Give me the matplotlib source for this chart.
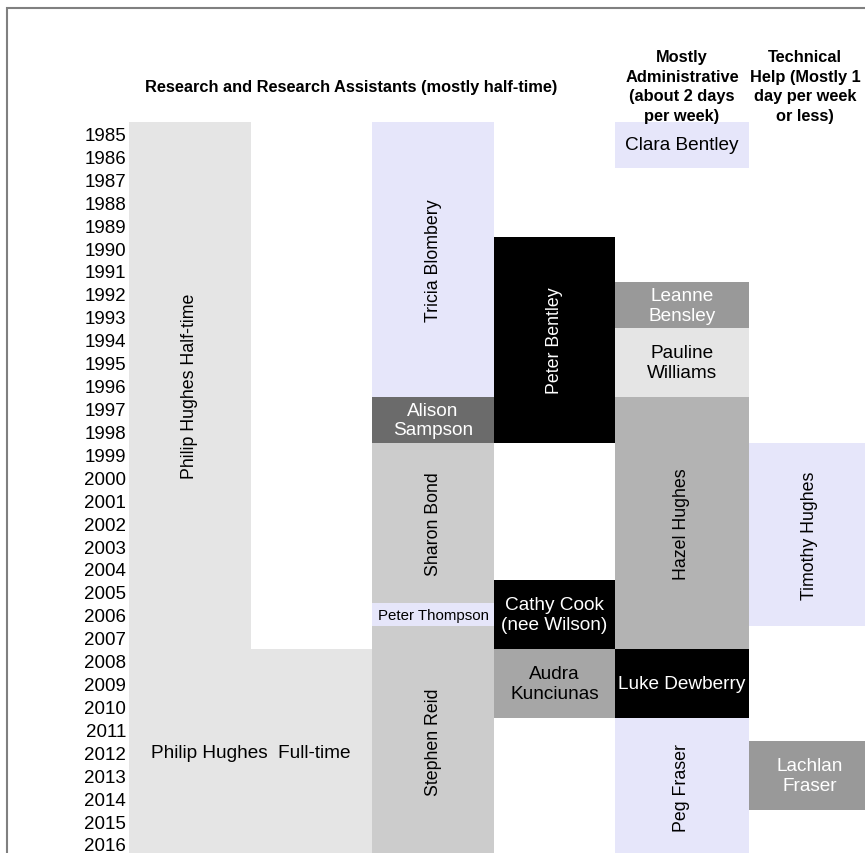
"""
Staff timeline 1985-2016: who worked in which role, one block per person.
"""

import matplotlib.pyplot as plt
from matplotlib.patches import Rectangle

OUTPUT = "out.png"
FONT = ["Liberation Sans", "DejaVu Sans"]

# data ---------------------------------------------------------------------
years = list(range(1985, 2017))

names = [
    "Philip Hughes Half-time", "Philip Hughes  Full-time",
    "Tricia Blombery", "Alison\nSampson", "Sharon Bond", "Peter Thompson", "Stephen Reid",
    "Peter Bentley", "Cathy Cook\n(nee Wilson)", "Audra\nKunciunas",
    "Clara Bentley", "Leanne\nBensley", "Pauline\nWilliams", "Hazel Hughes",
    "Luke Dewberry", "Peg Fraser",
    "Timothy Hughes", "Lachlan\nFraser",
]
first_year = [1985, 2008, 1985, 1997, 1999, 2006, 2007, 1990, 2005, 2008,
              1985, 1992, 1994, 1997, 2008, 2011, 1999, 2012]
last_year = [2007, 2016, 1996, 1998, 2005, 2006, 2016, 1998, 2007, 2010,
             1986, 1993, 1996, 2007, 2010, 2016, 2006, 2014]
first_col = [0, 0, 2, 2, 2, 2, 2, 3, 3, 3, 4, 4, 4, 4, 4, 4, 5, 5]
last_col = [0, 1, 2, 2, 2, 2, 2, 3, 3, 3, 4, 4, 4, 4, 4, 4, 5, 5]

headers = [
    "Research and Research Assistants (mostly half-time)",
    "Mostly\nAdministrative\n(about 2 days\nper week)",
    "Technical\nHelp (Mostly 1\nday per week\nor less)",
]

# layout / style ------------------------------------------------------------
col_edges = [129, 251, 372, 494, 615, 749, 871]   # pixel columns
header_x = [351, 682, 805]
fills = ["#e5e5e5", "#e5e5e5", "#e6e6fa", "#6b6b6b", "#cccccc", "#e6e6fa", "#cccccc",
         "black", "black", "#a6a6a6",
         "#e6e6fa", "#999999", "#e5e5e5", "#b3b3b3", "black", "#e6e6fa",
         "#e6e6fa", "#999999"]
light_text = {"Alison\nSampson", "Peter Bentley", "Cathy Cook\n(nee Wilson)",
              "Leanne\nBensley", "Luke Dewberry", "Lachlan\nFraser"}
rotated = {"Philip Hughes Half-time", "Tricia Blombery", "Sharon Bond",
           "Stephen Reid", "Peter Bentley", "Hazel Hughes", "Peg Fraser",
           "Timothy Hughes"}

W, H, DPI = 865, 854, 100
TOP_PX, ROW_PX = 123, 22.92

fig = plt.figure(figsize=(W / DPI, H / DPI), dpi=DPI)
ax = fig.add_axes([col_edges[0] / W, 0, 1 - col_edges[0] / W, (H - TOP_PX) / H])
ax.set_xlim(col_edges[0], W)
ax.set_ylim(years[0] + (H - TOP_PX) / ROW_PX, years[0])
for s in ax.spines.values():
    s.set_visible(False)
ax.set_xticks([])
ax.set_yticks([y + 0.5 for y in years])
ax.set_yticklabels([str(y) for y in years], family=FONT, fontsize=13.5)
ax.tick_params(axis="y", length=0, pad=2)

for i, name in enumerate(names):
    x0 = col_edges[first_col[i]]
    x1 = col_edges[last_col[i] + 1]
    y0 = first_year[i]
    y1 = last_year[i] + 1
    ax.add_patch(Rectangle((x0, y0), x1 - x0, y1 - y0, facecolor=fills[i],
                           edgecolor="none", clip_on=False))
    if name == "Peter Thompson":
        size = 10.8
    elif name in rotated:
        size = 12.8
    else:
        size = 13.7
    ax.text((x0 + x1) / 2, (y0 + y1) / 2, name, ha="center", va="center",
            rotation=90 if name in rotated else 0, family=FONT, fontsize=size,
            color="white" if name in light_text else "black",
            linespacing=1.2, clip_on=True)

header_y = years[0] - (TOP_PX - 87) / ROW_PX
for hx, text in zip(header_x, headers):
    ax.text(hx, header_y, text, ha="center", va="center", family=FONT,
            fontsize=11.8, fontweight="bold", linespacing=1.38, clip_on=False)

# outer frame, right and bottom edges run off the picture
fig.patches.append(Rectangle((6.5 / W, -0.1), 1.2, 1.1 - 8.5 / H, transform=fig.transFigure,
                             facecolor="none", edgecolor="#808080", linewidth=1.5))

fig.savefig(OUTPUT, dpi=DPI)
